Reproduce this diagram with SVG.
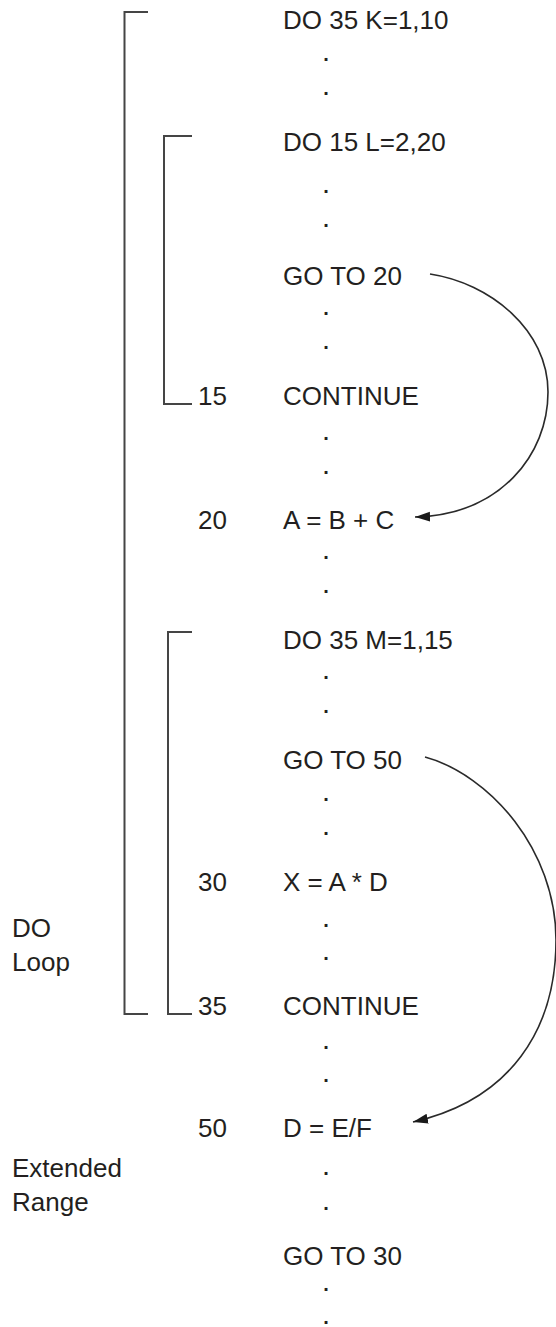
<svg xmlns="http://www.w3.org/2000/svg" width="556" height="1327" viewBox="0 0 556 1327">
<style>
text{font-family:"Liberation Sans",Arial,Helvetica,sans-serif;font-size:26px;fill:#231f20}
text.dot{text-anchor:middle;font-size:20px;font-weight:bold}
.br{fill:none;stroke:#454545;stroke-width:2}
.arc{fill:none;stroke:#2a2a2a;stroke-width:1.6}
</style>
<defs>
<marker id="ah" markerUnits="userSpaceOnUse" markerWidth="17" markerHeight="12" refX="15" refY="5" orient="auto">
<path d="M0,0 L15,5 L0,10 Z" fill="#1a1a1a"/>
</marker>
</defs>
<rect width="556" height="1327" fill="#fff"/>
<g id="brackets">
<path id="outer-loop" class="br" d="M148,12 H124.5 V1014 H148"/>
<path id="loop-15" class="br" d="M192,136 H164 V404 H192"/>
<path id="loop-35" class="br" d="M192,632 H168 V1014 H192"/>
</g>
<g id="n-do35k"><text x="283" y="29">DO 35 K=1,10</text></g>
<g id="d1"><text class="dot" x="326" y="60.5">.</text><text class="dot" x="326" y="94.5">.</text></g>
<g id="n-do15l"><text x="283" y="151">DO 15 L=2,20</text></g>
<g id="d2"><text class="dot" x="326" y="192.5">.</text><text class="dot" x="326" y="226.5">.</text></g>
<g id="n-goto20"><text x="283" y="285">GO TO 20</text></g>
<g id="d3"><text class="dot" x="326" y="314.5">.</text><text class="dot" x="326" y="348.5">.</text></g>
<g id="n-15"><text x="198" y="405">15</text><text x="283" y="405">CONTINUE</text></g>
<g id="d4"><text class="dot" x="326" y="439.5">.</text><text class="dot" x="326" y="473.5">.</text></g>
<g id="n-20"><text x="198" y="529">20</text><text x="283" y="529">A = B + C</text></g>
<g id="d5"><text class="dot" x="326" y="558.5">.</text><text class="dot" x="326" y="592.5">.</text></g>
<g id="n-do35m"><text x="283" y="649">DO 35 M=1,15</text></g>
<g id="d6"><text class="dot" x="326" y="678.5">.</text><text class="dot" x="326" y="712.5">.</text></g>
<g id="n-goto50"><text x="283" y="769">GO TO 50</text></g>
<g id="d7"><text class="dot" x="326" y="800.5">.</text><text class="dot" x="326" y="834.5">.</text></g>
<g id="n-30"><text x="198" y="891">30</text><text x="283" y="891">X = A * D</text></g>
<g id="d8"><text class="dot" x="326" y="926.5">.</text><text class="dot" x="326" y="959.5">.</text></g>
<g id="n-35"><text x="198" y="1015">35</text><text x="283" y="1015">CONTINUE</text></g>
<g id="d9"><text class="dot" x="326" y="1048.5">.</text><text class="dot" x="326" y="1081.5">.</text></g>
<g id="n-50"><text x="198" y="1137">50</text><text x="283" y="1137">D = E/F</text></g>
<g id="d10"><text class="dot" x="326" y="1174.5">.</text><text class="dot" x="326" y="1209.5">.</text></g>
<g id="n-goto30"><text x="283" y="1265">GO TO 30</text></g>
<g id="d11"><text class="dot" x="326" y="1290.5">.</text><text class="dot" x="326" y="1323.5">.</text></g>
<g id="label-do-loop"><text x="12" y="937">DO</text><text x="12" y="971">Loop</text></g>
<g id="label-extended"><text x="12" y="1177">Extended</text><text x="12" y="1211">Range</text></g>
<g id="connectors">
<path class="arc" marker-end="url(#ah)" d="M430,274 C490,283 548,330 548,392 C548,455 500,515 415,517"/>
<path class="arc" marker-end="url(#ah)" d="M425,757 C490,775 556,850 556,940 C556,1030 510,1100 413,1122"/>
</g>
</svg>
